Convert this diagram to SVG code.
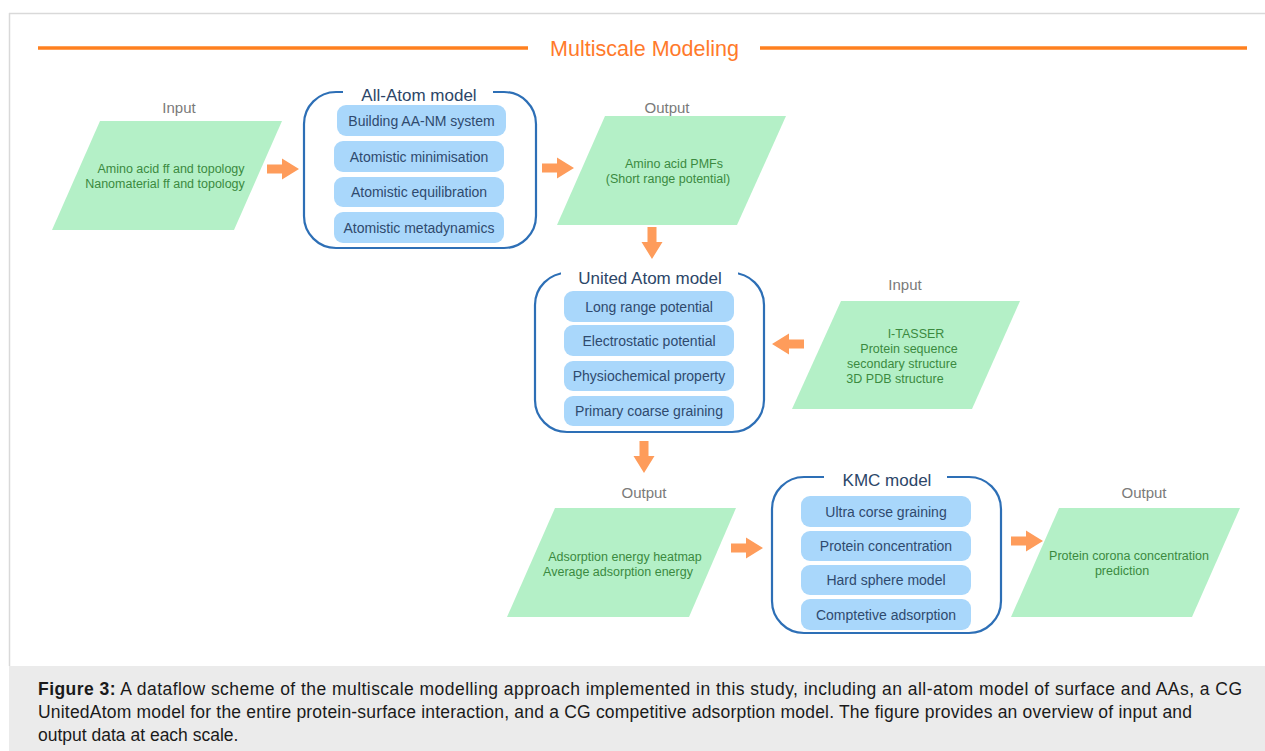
<svg xmlns="http://www.w3.org/2000/svg" width="1265" height="751" viewBox="0 0 1265 751">
<style>
  text { font-family: "Liberation Sans", Arial, sans-serif; }
  .lbl { font-size: 15px; fill: #7a7a7a; text-anchor: middle; }
  .para { fill: #b4f0c7; }
  .ptx { font-size: 12.5px; fill: #3b8a3f; text-anchor: middle; }
  .model { fill: none; stroke: #2d6fb6; stroke-width: 2.2; }
  .mtitle { font-size: 17px; fill: #2c4668; text-anchor: middle; }
  .step { fill: #a9d7fb; }
  .stx { font-size: 14px; fill: #2f4a6e; text-anchor: middle; }
  .arr { fill: #fe9c5b; }
  .cap { font-size: 17.5px; fill: #1a1a1a; }
</style>
<defs>
  <path id="rarrow" d="M0,-4.5 H15 V-10.5 L32,0 L15,10.5 V4.5 H0 Z"/>
</defs>
<rect x="0" y="0" width="1265" height="751" fill="#ffffff"/>
<!-- frame -->
<g id="frame">
  <line x1="9" y1="13.5" x2="1265" y2="13.5" stroke="#d9d9d9" stroke-width="1.5"/>
  <line x1="9.5" y1="13" x2="9.5" y2="666" stroke="#d9d9d9" stroke-width="1.5"/>
  <rect x="9" y="666" width="1256" height="85" fill="#ebebeb"/>
</g>
<!-- header -->
<g id="header">
  <line x1="38" y1="48" x2="528" y2="48" stroke="#ff801f" stroke-width="3.5"/>
  <line x1="760" y1="48" x2="1247" y2="48" stroke="#ff801f" stroke-width="3.5"/>
  <text x="644.5" y="55.5" font-size="21.5" fill="#ff7a2b" text-anchor="middle">Multiscale Modeling</text>
</g>
<!-- input 1 -->
<g id="input1">
  <text class="lbl" x="179" y="113">Input</text>
  <polygon class="para" points="100,121 282,121 234,230 52,230"/>
  <text class="ptx" x="171" y="173">Amino acid ff and topology</text>
  <text class="ptx" x="165" y="188">Nanomaterial ff and topology</text>
</g>
<!-- all-atom model -->
<g id="allatom">
  <rect class="model" x="304" y="92" width="232" height="156" rx="32" ry="32"/>
  <rect x="343" y="85" width="150" height="14" fill="#ffffff"/>
  <text class="mtitle" x="419" y="101">All-Atom model</text>
  <rect class="step" x="337" y="105" width="169" height="31" rx="9"/>
  <text class="stx" x="421.5" y="125.5">Building AA-NM system</text>
  <rect class="step" x="334" y="141" width="170" height="31" rx="9"/>
  <text class="stx" x="419" y="161.5">Atomistic minimisation</text>
  <rect class="step" x="334" y="177" width="170" height="30" rx="9"/>
  <text class="stx" x="419" y="197">Atomistic equilibration</text>
  <rect class="step" x="334" y="212" width="170" height="31" rx="9"/>
  <text class="stx" x="419" y="232.5">Atomistic metadynamics</text>
</g>
<!-- output 1 -->
<g id="output1">
  <text class="lbl" x="667" y="113">Output</text>
  <polygon class="para" points="605,116 786,116 737,225 557,225"/>
  <text class="ptx" x="674" y="168">Amino acid PMFs</text>
  <text class="ptx" x="668" y="183">(Short range potential)</text>
</g>
<!-- united atom model -->
<g id="unitedatom">
  <rect class="model" x="535" y="273" width="229" height="159" rx="32" ry="32"/>
  <rect x="561" y="265" width="177" height="15" fill="#ffffff"/>
  <text class="mtitle" x="650" y="284">United Atom model</text>
  <rect class="step" x="564" y="291" width="170" height="31" rx="9"/>
  <text class="stx" x="649" y="311.5">Long range potential</text>
  <rect class="step" x="564" y="325" width="170" height="31" rx="9"/>
  <text class="stx" x="649" y="345.5">Electrostatic potential</text>
  <rect class="step" x="564" y="361" width="170" height="30" rx="9"/>
  <text class="stx" x="649" y="381">Physiochemical property</text>
  <rect class="step" x="564" y="396" width="170" height="30" rx="9"/>
  <text class="stx" x="649" y="416">Primary coarse graining</text>
</g>
<!-- input 2 -->
<g id="input2">
  <text class="lbl" x="905" y="290">Input</text>
  <polygon class="para" points="841,301 1020,301 972,409 792,409"/>
  <text class="ptx" x="916" y="337.5">I-TASSER</text>
  <text class="ptx" x="909" y="352.5">Protein sequence</text>
  <text class="ptx" x="902" y="368">secondary structure</text>
  <text class="ptx" x="895" y="383">3D PDB structure</text>
</g>
<!-- output 2 -->
<g id="output2">
  <text class="lbl" x="644" y="498">Output</text>
  <polygon class="para" points="555,508 736,508 689,617 507,617"/>
  <text class="ptx" x="625" y="561">Adsorption energy heatmap</text>
  <text class="ptx" x="618" y="576">Average adsorption energy</text>
</g>
<!-- KMC model -->
<g id="kmc">
  <rect class="model" x="772" y="477" width="229" height="156" rx="32" ry="32"/>
  <rect x="824" y="470" width="123" height="14" fill="#ffffff"/>
  <text class="mtitle" x="887" y="486">KMC model</text>
  <rect class="step" x="801" y="496" width="170" height="31" rx="9"/>
  <text class="stx" x="886" y="516.5">Ultra corse graining</text>
  <rect class="step" x="801" y="531" width="170" height="30" rx="9"/>
  <text class="stx" x="886" y="551">Protein concentration</text>
  <rect class="step" x="801" y="565" width="170" height="30" rx="9"/>
  <text class="stx" x="886" y="585">Hard sphere model</text>
  <rect class="step" x="801" y="599" width="170" height="31" rx="9"/>
  <text class="stx" x="886" y="619.5">Comptetive adsorption</text>
</g>
<!-- output 3 -->
<g id="output3">
  <text class="lbl" x="1144" y="498">Output</text>
  <polygon class="para" points="1059,508 1240,508 1192,617 1011,617"/>
  <text class="ptx" x="1129" y="560">Protein corona concentration</text>
  <text class="ptx" x="1122" y="575">prediction</text>
</g>
<!-- connectors -->
<g id="connectors" class="arr">
  <use href="#rarrow" transform="translate(267,169)"/>
  <use href="#rarrow" transform="translate(542,168)"/>
  <use href="#rarrow" transform="translate(652,227) rotate(90)"/>
  <use href="#rarrow" transform="translate(804,344) rotate(180)"/>
  <use href="#rarrow" transform="translate(644,441) rotate(90)"/>
  <use href="#rarrow" transform="translate(731,548)"/>
  <use href="#rarrow" transform="translate(1011,541)"/>
</g>
<!-- caption -->
<g id="caption">
  <text class="cap" x="38" y="695" textLength="1204" lengthAdjust="spacing"><tspan font-weight="bold">Figure 3:</tspan> A dataflow scheme of the multiscale modelling approach implemented in this study, including an all-atom model of surface and AAs, a CG</text>
  <text class="cap" x="38" y="718" textLength="1154" lengthAdjust="spacing">UnitedAtom model for the entire protein-surface interaction, and a CG competitive adsorption model. The figure provides an overview of input and</text>
  <text class="cap" x="38" y="741">output data at each scale.</text>
</g>
</svg>
